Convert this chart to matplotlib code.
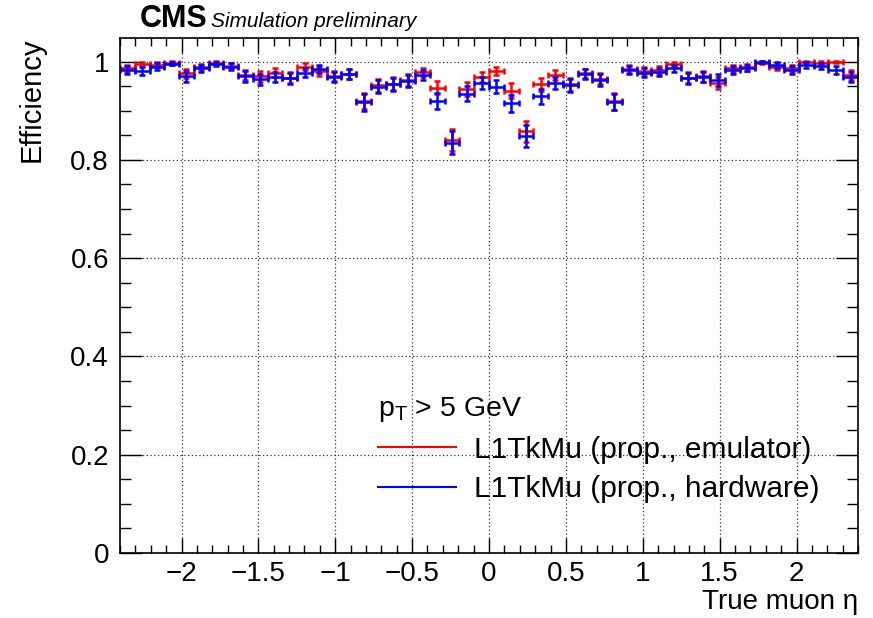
import numpy as np
import matplotlib
matplotlib.use("Agg")
import matplotlib.pyplot as plt
from matplotlib.ticker import MultipleLocator, FuncFormatter
from matplotlib.lines import Line2D

plt.rcParams['font.family'] = ['Liberation Sans', 'DejaVu Sans']
plt.rcParams['mathtext.fontset'] = 'custom'
plt.rcParams['mathtext.rm'] = 'Liberation Sans'
plt.rcParams['mathtext.it'] = 'Liberation Sans:italic'

# ---- data ----
eta_min, eta_max, n_bins = -2.4, 2.4, 50
eff_emulator = [0.986, 0.996, 0.994, 0.997, 0.976, 0.989, 0.997, 0.992, 0.972, 0.970,
                0.977, 0.967, 0.990, 0.980, 0.971, 0.975, 0.920, 0.952, 0.955, 0.962,
                0.978, 0.947, 0.840, 0.945, 0.969, 0.981, 0.941, 0.858, 0.954, 0.972,
                0.954, 0.976, 0.965, 0.919, 0.985, 0.981, 0.983, 0.995, 0.967, 0.970,
                0.956, 0.986, 0.988, 0.998, 0.990, 0.986, 0.999, 0.998, 0.999, 0.973]
eff_hardware = [0.983, 0.981, 0.990, 0.996, 0.970, 0.986, 0.995, 0.990, 0.970, 0.964,
                0.969, 0.966, 0.977, 0.985, 0.969, 0.975, 0.917, 0.949, 0.954, 0.960,
                0.973, 0.920, 0.835, 0.935, 0.956, 0.949, 0.915, 0.849, 0.929, 0.957,
                0.952, 0.975, 0.963, 0.918, 0.982, 0.977, 0.979, 0.986, 0.966, 0.969,
                0.962, 0.983, 0.987, 0.999, 0.993, 0.982, 0.993, 0.991, 0.982, 0.969]
n_per_bin = 260  # estimated muons per bin, for binomial error bars
label_emu = "L1TkMu (prop., emulator)"
label_hw = "L1TkMu (prop., hardware)"
legend_title = r"p$_\mathrm{T}$ > 5 GeV"

edges = np.linspace(eta_min, eta_max, n_bins + 1)
centers = 0.5 * (edges[1:] + edges[:-1])
half_w = 0.5 * (edges[1:] - edges[:-1])

def binom_err(e):
    e = np.asarray(e)
    return np.sqrt(e * (1 - e) / n_per_bin)

fig = plt.figure(figsize=(8.73, 6.18), dpi=100)
ax = fig.add_axes([120/873, 1-553/618, 738/873, 515/618])

for eff, col in [(eff_emulator, '#ff0000'), (eff_hardware, '#0000ff')]:
    ax.errorbar(centers, eff, xerr=half_w, yerr=binom_err(eff), fmt='none',
                ecolor=col, elinewidth=1.8, capsize=2.2, capthick=1.8)

ax.set_xlim(eta_min, eta_max)
ax.set_ylim(0, 1.048)
ax.xaxis.set_major_locator(MultipleLocator(0.5))
ax.xaxis.set_minor_locator(MultipleLocator(0.1))
ax.yaxis.set_major_locator(MultipleLocator(0.2))
ax.yaxis.set_minor_locator(MultipleLocator(0.05))
fmt = FuncFormatter(lambda v, p: ("%g" % round(v, 3)).replace('-', '\u2212'))
ax.xaxis.set_major_formatter(fmt)
ax.yaxis.set_major_formatter(fmt)
ax.grid(True, which='major', linestyle=(0, (1, 2)), color='#333333', linewidth=0.9)
ax.tick_params(direction='in', top=True, right=True, which='both', labelsize=20, width=1)
ax.tick_params(axis='x', which='major', length=11, pad=6)
ax.tick_params(axis='x', which='minor', length=5.5)
ax.tick_params(axis='y', which='major', length=16, pad=8)
ax.tick_params(axis='y', which='minor', length=8)
for s in ax.spines.values():
    s.set_linewidth(1.2)

ax.set_xlabel("True muon \u03b7", fontsize=20, loc='right', labelpad=1)
ax.set_ylabel("Efficiency", fontsize=21, loc='top', labelpad=18)

handles = [Line2D([], [], color='#ff0000', lw=1.5), Line2D([], [], color='#0000ff', lw=1.5)]
leg = ax.legend(handles, [label_emu, label_hw], title=legend_title, loc='upper left',
                bbox_to_anchor=(0.33, 0.335), frameon=False, fontsize=21.5,
                title_fontsize=20.5, alignment='left', handlelength=2.6,
                handletextpad=0.6, labelspacing=0.38, borderpad=0)

fig.text(140/873, 1-27/618, "CMS", fontsize=22, fontweight='bold', va='baseline')
fig.text(211/873, 1-27/618, "Simulation preliminary", fontsize=15, style='italic', va='baseline')

fig.savefig("out.png", dpi=100)
